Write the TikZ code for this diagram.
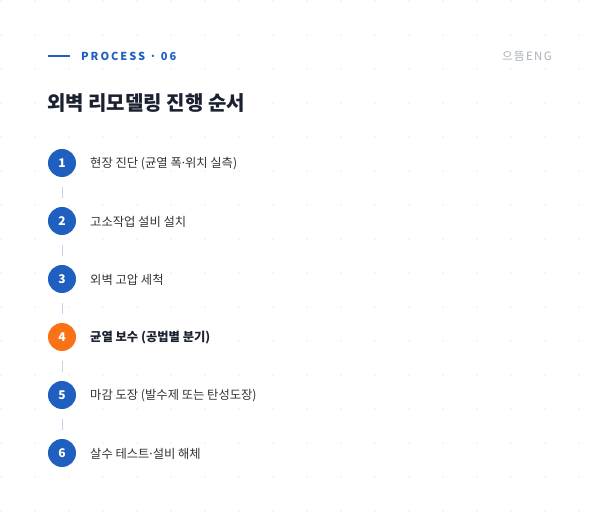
\documentclass[tikz,border=0pt]{standalone}
\usepackage{fontspec}
\setmainfont{Noto Sans CJK KR}
\newfontfamily\procfont[LetterSpace=18]{Noto Sans CJK KR}
\newfontfamily\brandfont[LetterSpace=12]{Noto Sans CJK KR}
\newcommand{\mydot}{\kern-0.15em·\kern-0.15em}
\definecolor{dotc}{HTML}{ECECEC}
\definecolor{bluec}{HTML}{1F5FBF}
\definecolor{orangec}{HTML}{F97316}
\definecolor{connc}{HTML}{C3D4EF}
\definecolor{titlec}{HTML}{1B2130}
\definecolor{labelc}{HTML}{333333}
\definecolor{brandc}{HTML}{A9AFBB}
\tikzset{
  stepnum/.style={circle,fill=bluec,minimum size=28pt,inner sep=0pt,text=white,font=\fontsize{12}{13}\selectfont\bfseries},
  stepcur/.style={stepnum,fill=orangec},
  steplabel/.style={anchor=west,inner sep=0pt,text=labelc,font=\fontsize{12.3}{14}\selectfont},
  conn/.style={draw=connc,line width=1pt,shorten >=9pt,shorten <=10pt},
}
\begin{document}
\begin{tikzpicture}[x=1pt,y=-1pt]
\useasboundingbox (0,0) rectangle (600,526);
\fill[white] (0,0) rectangle (600,526);
\foreach \i in {0,...,17}{
  \foreach \j in {0,...,15}{
    \fill[dotc] ({1+34*\i},{1+34*\j}) circle (0.85);
  }
}
% header
\coordinate (hl1) at (48,56);
\coordinate (hl2) at (70,56);
\draw[bluec,line width=2pt] (hl1) -- (hl2);
\node[anchor=west,inner sep=0pt,text=bluec,font=\procfont\fontsize{11}{12}\selectfont\bfseries] (proc) at (81,56) {PROCESS · 06};
\node[anchor=east,inner sep=0pt,text=brandc,font=\brandfont\fontsize{11.5}{12}\selectfont] (brand) at (552,56) {으뜸ENG};
\node[anchor=west,inner sep=0pt,text=titlec,font=\fontsize{20}{24}\selectfont\bfseries] (title) at (47,103) {외벽 리모델링 진행 순서};
% steps
\node[stepnum] (s1) at (62,163) {1};
\node[stepnum] (s2) at (62,221) {2};
\node[stepnum] (s3) at (62,279) {3};
\node[stepcur] (s4) at (62,337) {4};
\node[stepnum] (s5) at (62,395) {5};
\node[stepnum] (s6) at (62,453) {6};
\draw[conn] (s1) -- (s2);
\draw[conn] (s2) -- (s3);
\draw[conn] (s3) -- (s4);
\draw[conn] (s4) -- (s5);
\draw[conn] (s5) -- (s6);
\node[steplabel] (l1) at (90,164) {현장 진단 (균열 폭\mydot 위치 실측)};
\node[steplabel] (l2) at (90,222) {고소작업 설비 설치};
\node[steplabel] (l3) at (90,280) {외벽 고압 세척};
\node[steplabel,text=titlec,font=\fontsize{12.3}{14}\selectfont\bfseries] (l4) at (90,338) {균열 보수 (공법별 분기)};
\node[steplabel] (l5) at (90,396) {마감 도장 (발수제 또는 탄성도장)};
\node[steplabel] (l6) at (90,454) {살수 테스트\mydot 설비 해체};
\end{tikzpicture}
\end{document}
